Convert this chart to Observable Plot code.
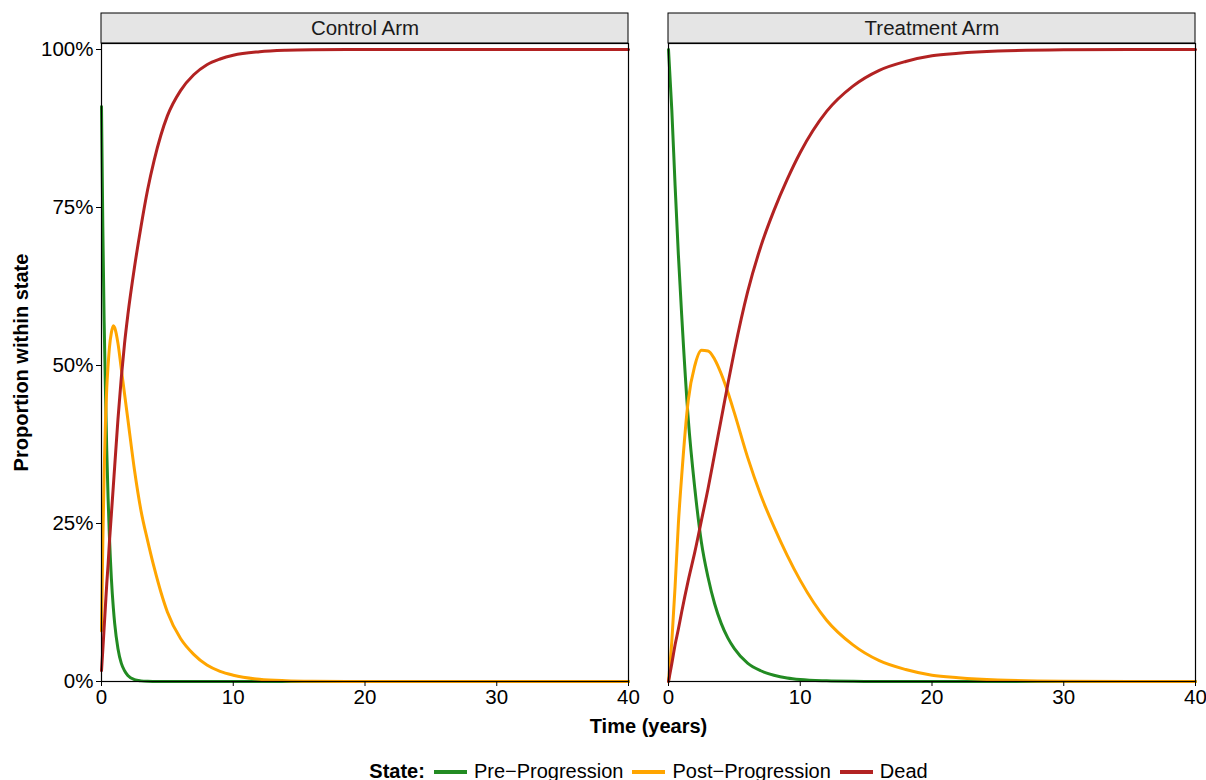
<!DOCTYPE html>
<html>
<head>
<meta charset="utf-8">
<script src="https://cdn.jsdelivr.net/npm/d3@7"></script>
<script src="https://cdn.jsdelivr.net/npm/@observablehq/plot@0.6"></script>
<style>
  body { margin: 0; background: #fff; font-family: "Liberation Sans", Arial, sans-serif; color: #000; }
  #chart svg g[aria-label="y-axis label"] text { font-weight: bold; font-size: 20px; }
  #xtitle { padding-left: 101px; padding-right: 10px; text-align: center; font-weight: bold; font-size: 20px; line-height: 28px; height: 28px; }
  #legend { padding-left: 101px; padding-right: 10px; text-align: center; font-size: 20px; line-height: 22px; margin-top: 20px; white-space: nowrap; }
  #legend .sw { display: inline-block; width: 33px; height: 4px; vertical-align: middle; margin: 0 7px 0 9px; position: relative; top: -1px; }
  #legend b { font-weight: bold; }
</style>
</head>
<body>
<div id="chart"></div>
<div id="xtitle">Time (years)</div>
<div id="legend"></div>
<script>
// ---- data ----
const arms = ["Control Arm", "Treatment Arm"];
const states = ["Pre\u2212Progression", "Post\u2212Progression", "Dead"];
const stateColors = ["#228B22", "#FFA500", "#B22222"];

const controlTime = [0,0.1,0.2,0.3,0.4,0.5,0.6,0.75,0.9,1,1.25,1.5,1.75,2,2.5,3,3.5,4,4.5,5,6,7,8,9,10,12,14,16,20,25,30,40];
const controlPre  = [91,72,57,46,36.5,29,23,16.3,11.6,9.2,5.2,2.9,1.7,0.95,0.3,0.1,0.03,0.01,0,0,0,0,0,0,0,0,0,0,0,0,0,0];
const controlPost = [8,22,33,41,46.5,50,52.8,55.2,56.3,56,53.5,49.5,45.5,41.5,33.5,27,22.3,18,14.2,11,6.8,4.3,2.6,1.6,1.0,0.35,0.12,0.04,0,0,0,0];
const controlDead = [1.7,5,8.5,12,15.5,18.5,22,26.5,31,34,41.5,48,53.5,58,65.5,72,77.8,82.5,86.4,89.5,93.5,96,97.6,98.5,99.1,99.65,99.88,99.96,100,100,100,100];

const treatTime = [0,0.25,0.5,0.75,1,1.5,2,2.5,3,3.5,4,4.5,5,6,7,8,9,10,12,14,16,18,20,22,25,30,35,40];
const treatPre  = [100,90.5,78.5,67.5,58,41.5,30.5,22,16.5,12.3,9.2,6.9,5.2,2.9,1.7,1.0,0.55,0.3,0.1,0.03,0.01,0,0,0,0,0,0,0];
const treatPost = [0,6.3,15,25,32.5,44.5,50,52.4,52.3,51,48.7,45.8,42.5,35.5,29.5,24.5,20,16,9.7,5.8,3.3,1.9,1.0,0.6,0.25,0.05,0,0];
const treatDead = [0,2.8,5.8,8.3,11,16,20.5,25.5,30.5,36,41.5,47,52.3,61.6,68.8,74.5,79.4,83.7,90.2,94.2,96.7,98.1,99,99.4,99.75,99.95,100,100];

const yTicks = [0, 25, 50, 75, 100];
const xTicks = [0, 10, 20, 30, 40];

// ---- build table ----
const series = [
  [arms[0], controlTime, [controlPre, controlPost, controlDead]],
  [arms[1], treatTime, [treatPre, treatPost, treatDead]]
];
const rows = [];
for (const [arm, times, vals] of series) {
  vals.forEach((arr, si) => {
    times.forEach((t, i) => rows.push({arm, state: states[si], t, v: arr[i]}));
  });
}

const W = 1206, H = 712, mTop = 43, mBottom = 31;
const yMax = 100.95;
const pxPerUnit = (H - mTop - mBottom) / yMax;
const stripTop = yMax + 30 / pxPerUnit;
const stripMid = yMax + 15 / pxPerUnit;

const chart = Plot.plot({
  width: W,
  height: H,
  marginLeft: 101,
  marginRight: 10,
  marginTop: mTop,
  marginBottom: mBottom,
  style: {fontFamily: "'Liberation Sans', Arial, sans-serif", fontSize: "20.5px", color: "#000", background: "#fff"},
  fx: {domain: arms, paddingInner: 40 / 567.5, paddingOuter: 0, axis: null, label: null},
  x: {domain: [0, 40]},
  y: {domain: [0, yMax]},
  color: {domain: states, range: stateColors},
  marks: [
    Plot.rect(arms, {fx: d => d, x1: 0, x2: 40, y1: yMax, y2: stripTop, fill: "#e5e5e5", stroke: "#000", strokeWidth: 1}),
    Plot.text(arms, {fx: d => d, x: 20, y: stripMid, text: d => d, fontSize: 20.5, fill: "#1a1a1a"}),
    Plot.line(rows, {fx: "arm", x: "t", y: "v", z: "state", stroke: "state", strokeWidth: 3, curve: "monotone-x"}),
    Plot.frame({stroke: "#000", strokeWidth: 1.2}),
    Plot.axisY({ticks: yTicks, tickFormat: d => d + "%", tickSize: 5, tickPadding: 3, label: "Proportion within state", labelAnchor: "center", labelArrow: "none", labelOffset: 88, fontSize: 20.5}),
    Plot.axisX({ticks: xTicks, tickSize: 5, tickPadding: 3, label: null, fontSize: 20.5})
  ]
});
document.getElementById("chart").appendChild(chart);

// ---- legend ----
const legend = document.getElementById("legend");
const title = document.createElement("b");
title.textContent = "State:";
legend.appendChild(title);
states.forEach((s, i) => {
  const sw = document.createElement("span");
  sw.className = "sw";
  sw.style.background = stateColors[i];
  legend.appendChild(sw);
  legend.appendChild(document.createTextNode(s));
});
</script>
</body>
</html>
